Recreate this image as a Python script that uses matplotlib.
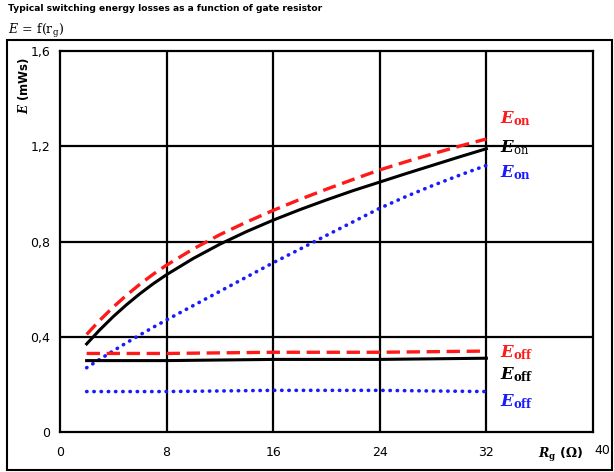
import matplotlib.pyplot as plt
from matplotlib.patches import Rectangle
from matplotlib.transforms import ScaledTranslation

plt.rcParams['mathtext.fontset'] = 'dejavuserif'

# gate resistance (Ohm)
rg = [2, 3, 4, 5, 6, 7, 8, 10, 12, 14, 16, 18, 20, 22, 24, 26, 28, 30, 32]

# turn-on energy (mWs)
eon_red = [0.41, 0.47, 0.525, 0.575, 0.621, 0.663, 0.701, 0.769, 0.829, 0.882, 0.931,
           0.977, 1.020, 1.061, 1.101, 1.136, 1.169, 1.201, 1.231]
eon_black = [0.37, 0.43, 0.485, 0.535, 0.581, 0.623, 0.661, 0.729, 0.789, 0.842, 0.890,
             0.934, 0.975, 1.014, 1.050, 1.086, 1.121, 1.156, 1.190]
eon_blue = [0.27, 0.306, 0.341, 0.375, 0.408, 0.44, 0.471, 0.531, 0.591, 0.651, 0.711,
            0.768, 0.826, 0.883, 0.94, 0.99, 1.036, 1.079, 1.12]

# turn-off energy (mWs)
eoff_rg = [2, 8, 16, 24, 32]
eoff_red = [0.33, 0.33, 0.335, 0.335, 0.34]
eoff_black = [0.30, 0.30, 0.305, 0.305, 0.31]
eoff_blue = [0.17, 0.17, 0.175, 0.175, 0.17]

xticks = [0, 8, 16, 24, 32, 40]
yticks = [0, 0.4, 0.8, 1.2, 1.6]
ytick_labels = ['0', '0,4', '0,8', '1,2', '1,6']

fig = plt.figure(figsize=(6.14, 4.72), dpi=100)
ax = fig.add_axes([0.0977, 0.0847, 0.868, 0.807])

fig.patches.append(Rectangle((0.0114, 0.0042), 0.985, 0.911, transform=fig.transFigure,
                             fill=False, edgecolor='black', lw=1.5))

for x in xticks[1:-1]:
    ax.axvline(x, color='black', lw=1.6, zorder=1)
for y in yticks[1:-1]:
    ax.axhline(y, color='black', lw=1.6, zorder=1)

dash = dict(color='#ff1a1a', lw=2.4, ls=(0, (4, 2)), zorder=3)
solid = dict(color='black', lw=2.2, zorder=3)
dots = dict(color='#1a1aff', lw=2.6, ls=(0, (0.1, 1.9)), dash_capstyle='round', zorder=3)

ax.plot(rg, eon_red, **dash)
ax.plot(rg, eon_black, **solid)
ax.plot(rg, eon_blue, **dots)
ax.plot(eoff_rg, eoff_red, **dash)
ax.plot(eoff_rg, eoff_black, **solid)
ax.plot(eoff_rg, eoff_blue, **dots)

ax.set_xlim(0, 40)
ax.set_ylim(0, 1.6)
ax.set_xticks(xticks)
ax.set_yticks(yticks)
ax.set_yticklabels(ytick_labels)
ax.tick_params(axis='x', length=0, labelsize=9, pad=10)
ax.tick_params(axis='y', length=0, labelsize=9, pad=7)
for s in ax.spines.values():
    s.set_linewidth(1.6)
# the "40" sits a little right of its tick
last = ax.get_xticklabels()[-1]
last.set_transform(last.get_transform() + ScaledTranslation(0.09, 0.02, fig.dpi_scale_trans))

# curve labels
lbl = dict(fontsize=12, ha='left', va='center', clip_on=False)
ax.text(33.0, 1.315, r'$\mathbfit{E}_{\mathbf{on}}$', color='#ff1a1a', **lbl)
ax.text(33.0, 1.195, r'$\mathbfit{E}_{\mathrm{on}}$', color='black', **lbl)
ax.text(33.0, 1.09, r'$\mathbfit{E}_{\mathbf{on}}$', color='#1a1aff', **lbl)
ax.text(33.0, 0.335, r'$\mathbfit{E}_{\mathbf{off}}$', color='#ff1a1a', **lbl)
ax.text(33.0, 0.24, r'$\mathbfit{E}_{\mathbf{off}}$', color='black', **lbl)
ax.text(33.0, 0.128, r'$\mathbfit{E}_{\mathbf{off}}$', color='#1a1aff', **lbl)

fig.text(0.039, 0.82, r'$\mathbfit{E}$ (mWs)', rotation=90, fontsize=8.5, fontweight='bold',
         ha='center', va='center')
fig.text(0.913, 0.036, r'$\mathbfit{R}_{\mathbf{g}}$ ($\mathbf{\Omega}$)', fontsize=9,
         fontweight='bold', ha='center', va='center')

fig.text(0.013, 0.982, 'Typical switching energy losses as a function of gate resistor',
         fontsize=6.6, fontweight='bold', ha='left', va='center')
fig.text(0.013, 0.935, r'$E\,=\,\mathrm{f}(\mathrm{r_g})$', fontsize=9, ha='left', va='center')

fig.savefig('out.png', dpi=100)
